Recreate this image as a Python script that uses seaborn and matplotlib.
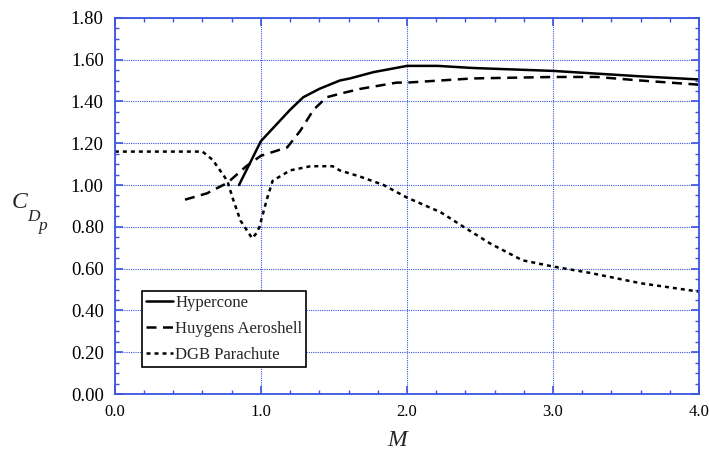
import pandas as pd
import matplotlib.pyplot as plt
import seaborn as sns
from matplotlib.ticker import MultipleLocator

# Mach number / drag coefficient
hyper_m = [0.85, 1.0, 1.2, 1.29, 1.40, 1.54, 1.61, 1.77, 2.0, 2.21, 2.45, 3.0, 3.6, 4.0]
hyper_cd = [1.00, 1.21, 1.36, 1.42, 1.46, 1.50, 1.51, 1.54, 1.57, 1.57, 1.56, 1.546, 1.52, 1.505]

huygens_m = [0.48, 0.63, 0.77, 0.90, 1.0, 1.18, 1.27, 1.36, 1.45, 1.56, 1.68, 1.93, 2.0, 2.45, 3.0, 3.3, 3.6, 4.0]
huygens_cd = [0.93, 0.96, 1.01, 1.09, 1.14, 1.18, 1.26, 1.36, 1.42, 1.44, 1.46, 1.49, 1.49, 1.51, 1.517, 1.517, 1.50, 1.48]

dgb_m = [0.0, 0.60, 0.67, 0.77, 0.81, 0.86, 0.94, 0.97, 0.99, 1.04, 1.08, 1.2, 1.34, 1.49, 1.54,
         1.68, 1.84, 2.0, 2.23, 2.41, 2.57, 2.79, 3.0, 3.25, 3.6, 4.0]
dgb_cd = [1.16, 1.16, 1.12, 1.02, 0.93, 0.83, 0.745, 0.77, 0.80, 0.93, 1.02, 1.07, 1.09, 1.09, 1.07,
          1.04, 1.00, 0.94, 0.87, 0.79, 0.72, 0.64, 0.61, 0.58, 0.53, 0.49]

series_names = ["Hypercone", "Huygens Aeroshell", "DGB Parachute"]

df = pd.concat([
    pd.DataFrame({"M": hyper_m, "Cd": hyper_cd, "series": series_names[0]}),
    pd.DataFrame({"M": huygens_m, "Cd": huygens_cd, "series": series_names[1]}),
    pd.DataFrame({"M": dgb_m, "Cd": dgb_cd, "series": series_names[2]}),
])

sns.set_style("ticks")
plt.rcParams['font.family'] = ['Liberation Serif', 'DejaVu Serif']

blue = "#3a55e0"

fig = plt.figure(figsize=(7.09, 4.5), dpi=100)
ax = fig.add_axes([0.162, 0.1244, 0.824, 0.836])

sns.lineplot(data=df, x="M", y="Cd", hue="series", style="series",
             hue_order=series_names, style_order=series_names,
             palette=["black", "black", "black"],
             dashes={"Hypercone": "", "Huygens Aeroshell": (4, 2.6), "DGB Parachute": (1.6, 1.6)},
             linewidth=1.8, sort=False, estimator=None, ax=ax)

ax.set_xlim(0, 4.0)
ax.set_ylim(0, 1.8)
ax.xaxis.set_major_locator(MultipleLocator(1.0))
ax.xaxis.set_minor_locator(MultipleLocator(0.2))
ax.yaxis.set_major_locator(MultipleLocator(0.2))
ax.yaxis.set_minor_locator(MultipleLocator(0.05))
ax.set_xticklabels([f"{v:.1f}" for v in ax.get_xticks()])
ax.set_yticklabels([f"{v:.2f}" for v in ax.get_yticks()])

ax.grid(True, which="major", color=blue, linestyle=(0, (1, 1)), linewidth=0.8)
for s in ax.spines.values():
    s.set_color(blue)
    s.set_linewidth(1.3)
ax.tick_params(which="both", direction="in", top=True, right=True, color=blue,
               labelcolor="black")
ax.tick_params(which="major", length=6, width=1.2)
ax.tick_params(which="minor", length=3, width=1.0)
ax.tick_params(axis="y", which="major", pad=8, labelsize=13.5)
ax.tick_params(axis="x", which="major", pad=7, labelsize=12)
ax.set_xlabel("")
ax.set_ylabel("")

# axis titles, placed in pixel positions like the original
W, H = 709, 450
fig.text(12 / W, 1 - 208 / H, "C", fontsize=17, style="italic", va="baseline", ha="left")
fig.text(27 / W, 1 - 221 / H, "D", fontsize=12.5, style="italic", va="baseline", ha="left")
fig.text(38 / W, 1 - 230 / H, "p", fontsize=12.5, style="italic", va="baseline", ha="left")
fig.text(387 / W, 1 - 446 / H, "M", fontsize=17, style="italic", va="baseline", ha="left")

leg = ax.legend(loc="upper left", bbox_to_anchor=(0.046, 0.274), borderaxespad=0, fontsize=12,
                frameon=True, fancybox=False, handlelength=1.6, handletextpad=0.15,
                borderpad=0.25, labelspacing=0.6)
leg.get_frame().set_edgecolor("black")
leg.get_frame().set_linewidth(1.2)
leg.get_frame().set_alpha(1)

fig.savefig("out.png", dpi=100)
